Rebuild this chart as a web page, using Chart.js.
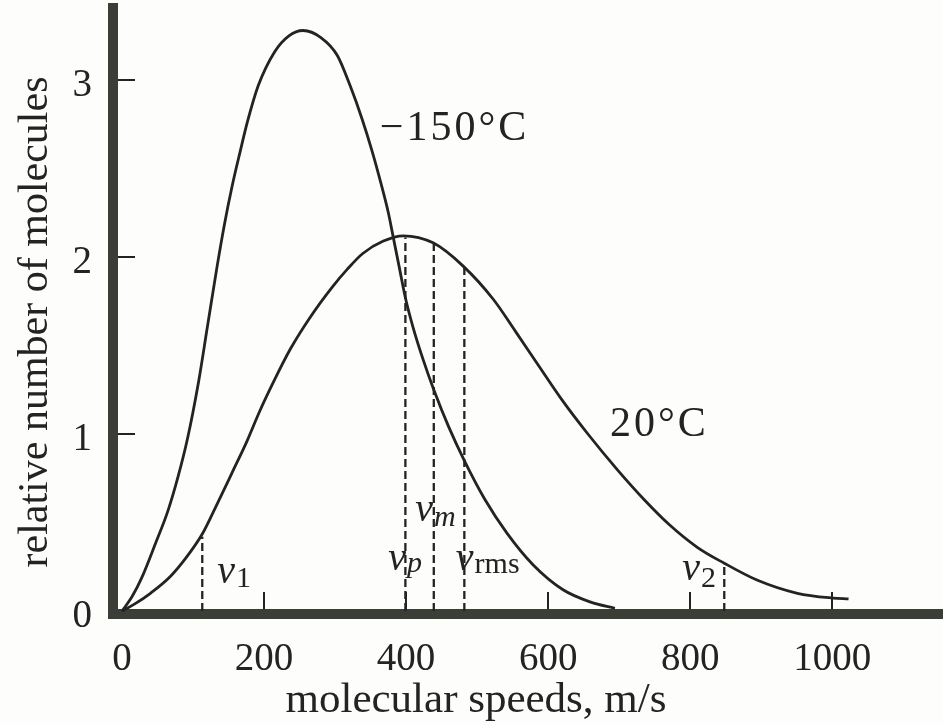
<!DOCTYPE html>
<html><head><meta charset="utf-8">
<script src="https://cdn.jsdelivr.net/npm/chart.js@4/dist/chart.umd.min.js"></script>
<style>html,body{margin:0;padding:0;background:#fdfdfc}canvas{display:block}</style>
</head><body>
<canvas id="c" width="943" height="725"></canvas>
<script>
// ---- data ----
const coldSpeeds = [0, 14, 28, 46, 65, 79, 92, 108, 120, 134, 144, 155, 166, 177, 192, 215, 235, 255, 280, 303, 321, 338, 352, 365, 375, 382, 390, 399, 410, 424, 439, 460, 482, 511, 542, 579, 621, 660, 694];
const coldValues = [0, 0.08, 0.19, 0.37, 0.57, 0.76, 0.97, 1.30, 1.60, 1.95, 2.18, 2.40, 2.59, 2.77, 2.97, 3.16, 3.25, 3.28, 3.24, 3.14, 2.97, 2.78, 2.60, 2.41, 2.25, 2.11, 1.95, 1.77, 1.60, 1.42, 1.25, 1.04, 0.85, 0.63, 0.44, 0.26, 0.12, 0.05, 0.015];
const warmSpeeds = [0, 18, 40, 68, 90, 113, 131, 156, 176, 194, 214, 237, 265, 296, 317, 339, 368, 396, 438, 480, 523, 554, 586, 620, 656, 697, 735, 770, 810, 848, 894, 951, 1001, 1023];
const warmValues = [0, 0.04, 0.10, 0.195, 0.30, 0.435, 0.58, 0.79, 0.96, 1.13, 1.30, 1.48, 1.66, 1.83, 1.93, 2.02, 2.09, 2.12, 2.08, 1.95, 1.76, 1.58, 1.39, 1.19, 1.00, 0.80, 0.63, 0.49, 0.36, 0.27, 0.175, 0.10, 0.073, 0.068];
const seriesNames = ['\u2212150\u00b0C', '20\u00b0C'];
const markerSubscripts = ['1', 'p', 'm', 'rms', '2'];
const markerSpeeds = [113, 399, 439, 482, 848];
const markerHeights = [0.42, 2.11, 2.08, 1.95, 0.27];
const xTickValues = [0, 200, 400, 600, 800, 1000];
const yTickValues = [0, 1, 2, 3];
const xTitle = 'molecular speeds, m/s';
const yTitle = 'relative number of molecules';

// ---- styling ----
const SERIF = '"Liberation Serif", "Times New Roman", serif';
const INK = '#232323';
const AXIS = '#3b3e37';
const AXW = 10;

const toPts = (xs, ys) => xs.map((x, i) => ({x: x, y: ys[i]}));

const markerSets = markerSpeeds.map((s, i) => ({
  label: 'v' + markerSubscripts[i],
  data: [{x: s, y: 0}, {x: s, y: markerHeights[i]}],
  borderColor: INK, borderWidth: 2.3, borderDash: [8, 4],
  pointRadius: 0, tension: 0, fill: false, order: 2
}));

// annotation anchors (data space: speed, value) for text labels
const seriesLabelAt = [[363, 2.66], [687, 0.99]];
const markerLabelAt = [[134, 0.158], [375, 0.232], [413, 0.51], [470, 0.232], [789, 0.175]];
const markerSubItalic = [false, true, true, false, false];
const markerSubDrop = [4, 2, 5, 3, 7];

const decor = {
  id: 'decor',
  beforeDraw(chart) {
    const c = chart.ctx;
    c.save();
    c.fillStyle = '#fdfdfc';
    c.fillRect(0, 0, chart.width, chart.height);
    c.restore();
  },
  afterDraw(chart) {
    const c = chart.ctx, xs = chart.scales.x, ys = chart.scales.y, a = chart.chartArea;
    c.save();
    c.fillStyle = AXIS;
    c.fillRect(a.left - AXW / 2, a.bottom - AXW / 2, AXW, AXW);
    c.strokeStyle = INK; c.lineWidth = 2;
    xTickValues.forEach(v => {
      if (v === 0) return;
      const px = Math.round(xs.getPixelForValue(v));
      c.beginPath(); c.moveTo(px, a.bottom - AXW / 2); c.lineTo(px, a.bottom - AXW / 2 - 17); c.stroke();
    });
    yTickValues.forEach(v => {
      if (v === 0) return;
      const py = Math.round(ys.getPixelForValue(v));
      c.beginPath(); c.moveTo(a.left + AXW / 2, py); c.lineTo(a.left + AXW / 2 + 17, py); c.stroke();
    });
    c.fillStyle = INK;
    c.textBaseline = 'alphabetic';
    c.textAlign = 'left';
    c.font = '42px ' + SERIF;
    if ('letterSpacing' in c) c.letterSpacing = '3px';
    seriesNames.forEach((t, i) => {
      c.fillText(t, xs.getPixelForValue(seriesLabelAt[i][0]), ys.getPixelForValue(seriesLabelAt[i][1]));
    });
    if ('letterSpacing' in c) c.letterSpacing = '0px';
    markerSubscripts.forEach((s, i) => {
      const px = xs.getPixelForValue(markerLabelAt[i][0]);
      const py = ys.getPixelForValue(markerLabelAt[i][1]);
      c.font = 'italic 40px ' + SERIF;
      c.fillText('v', px, py);
      const w = c.measureText('v').width;
      c.font = (markerSubItalic[i] ? 'italic ' : '') + '30px ' + SERIF;
      c.fillText(s, px + w + 1, py + markerSubDrop[i]);
    });
    c.font = '43px ' + SERIF;
    c.textAlign = 'center';
    c.fillText(xTitle, 476, 712);
    c.translate(47, 322);
    c.rotate(-Math.PI / 2);
    c.font = '42px ' + SERIF;
    c.fillText(yTitle, 0, 0);
    c.restore();
  }
};

new Chart(document.getElementById('c'), {
  type: 'line',
  data: {
    datasets: [
      {label: seriesNames[0], data: toPts(coldSpeeds, coldValues), borderColor: INK, borderWidth: 2.8,
       pointRadius: 0, cubicInterpolationMode: 'monotone', fill: false, order: 1},
      {label: seriesNames[1], data: toPts(warmSpeeds, warmValues), borderColor: INK, borderWidth: 2.8,
       pointRadius: 0, cubicInterpolationMode: 'monotone', fill: false, order: 1},
      ...markerSets
    ]
  },
  options: {
    responsive: false, animation: false, devicePixelRatio: 1,
    layout: {padding: {top: 8, right: 0, bottom: 0, left: 0}},
    plugins: {legend: {display: false}, tooltip: {enabled: false}},
    scales: {
      x: {
        type: 'linear', min: -12.7, max: 1156,
        grid: {display: false, drawTicks: false},
        border: {display: true, color: AXIS, width: AXW},
        afterBuildTicks: s => { s.ticks = xTickValues.map(v => ({value: v})); },
        afterFit: s => { s.height = 111; s.paddingLeft = 0; s.paddingRight = 0; },
        ticks: {font: {family: SERIF, size: 39}, color: INK, padding: 22, maxRotation: 0, autoSkip: false,
                callback: v => String(v)}
      },
      y: {
        type: 'linear', min: -0.017, max: 3.407,
        grid: {display: false, drawTicks: false},
        border: {display: true, color: AXIS, width: AXW},
        afterBuildTicks: s => { s.ticks = yTickValues.map(v => ({value: v})); },
        afterFit: s => { s.width = 113; s.paddingTop = 0; s.paddingBottom = 0; },
        ticks: {font: {family: SERIF, size: 39}, color: INK, padding: 21, labelOffset: 6, callback: v => String(v)}
      }
    }
  },
  plugins: [decor]
});
</script>
</body></html>
